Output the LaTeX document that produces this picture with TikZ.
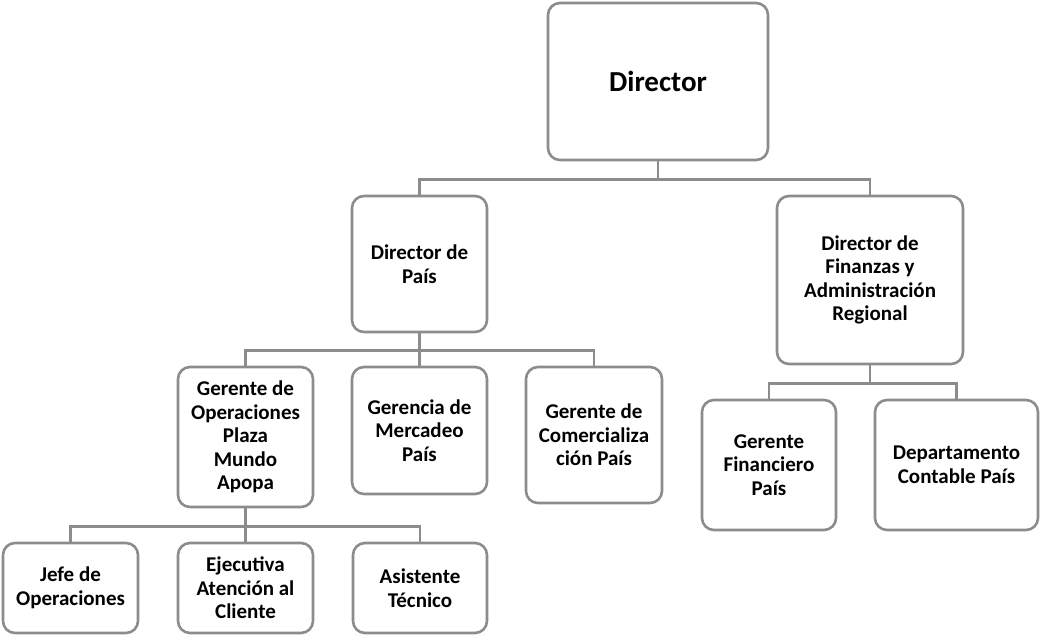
\documentclass[tikz,border=0pt]{standalone}
\usepackage{fontspec}
\setmainfont{Carlito}
\usepackage{tikz}
\usetikzlibrary{positioning, calc}
\definecolor{linegray}{RGB}{140, 140, 140}

\begin{document}
\begin{tikzpicture}[
    x=1pt, y=1pt,
    role/.style={draw=linegray, line width=2.6pt, fill=white, rounded corners=12pt, align=center, inner sep=2pt, font=\fontsize{21}{23.5}\selectfont\bfseries},
    link/.style={draw=linegray, line width=2.6pt},
]
    \useasboundingbox (0,0) rectangle (1041,-635);

    % Director
    \node[role, minimum width=220, minimum height=157, font=\fontsize{29}{33}\selectfont\bfseries] (director) at (658, -81.5) {Director};

    % Second level
    \node[role, minimum width=135, minimum height=136] (pais) at (419.5, -264) {Director de\\País};
    \node[role, minimum width=186, minimum height=168] (finanzas) at (870, -280) {Director de\\Finanzas y\\Administración\\Regional};

    % Under Director de Pais
    \node[role, minimum width=135, minimum height=140] (operaciones) at (245.5, -437) {Gerente de\\Operaciones\\Plaza\\Mundo\\Apopa};
    \node[role, minimum width=135, minimum height=127] (mercadeo) at (419.5, -430.5) {Gerencia de\\Mercadeo\\País};
    \node[role, minimum width=136, minimum height=136] (comercial) at (594, -435) {Gerente de\\Comercializa\\ción País};

    % Under Gerente de Operaciones
    \node[role, minimum width=135, minimum height=90] (jefe) at (70.5, -588) {Jefe de\\Operaciones};
    \node[role, minimum width=135, minimum height=90] (ejecutiva) at (245.5, -588) {Ejecutiva\\Atención al\\Cliente};
    \node[role, minimum width=134, minimum height=90] (asistente) at (420, -588) {Asistente\\Técnico};

    % Under Director de Finanzas
    \node[role, minimum width=134, minimum height=130] (financiero) at (769, -465) {Gerente\\Financiero\\País};
    \node[role, minimum width=163, minimum height=130] (contable) at (956.5, -465) {Departamento\\Contable País};

    % Connectors
    \draw[link] (director.south) -- ++(0,-18) -| (pais.north);
    \draw[link] (director.south) -- ++(0,-18) -| (finanzas.north);

    \draw[link] (pais.south) -- ++(0,-17) -| (operaciones.north);
    \draw[link] (pais.south) -- ++(0,-17) -| (mercadeo.north);
    \draw[link] (pais.south) -- ++(0,-17) -| (comercial.north);

    \draw[link] (operaciones.south) -- ++(0,-18) -| (jefe.north);
    \draw[link] (operaciones.south) -- ++(0,-18) -| (ejecutiva.north);
    \draw[link] (operaciones.south) -- ++(0,-18) -| (asistente.north);

    \draw[link] (finanzas.south) -- ++(0,-18) -| (financiero.north);
    \draw[link] (finanzas.south) -- ++(0,-18) -| (contable.north);

\end{tikzpicture}
\end{document}
